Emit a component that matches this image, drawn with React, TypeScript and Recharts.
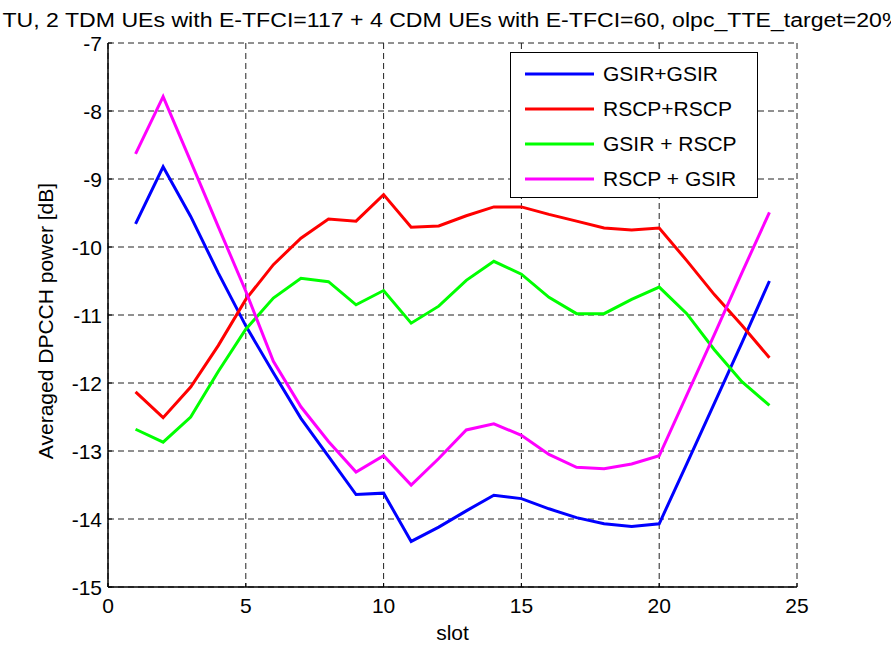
import React from 'react'
import {
  CartesianGrid,
  Legend,
  Line,
  LineChart,
  XAxis,
  YAxis,
} from 'recharts'

const slots = [1, 2, 3, 4, 5, 6, 7, 8, 9, 10, 11, 12, 13, 14, 15, 16, 17, 18, 19, 20, 21, 22, 23, 24]

const gsirGsir = [
  -9.66, -8.82, -9.55, -10.38, -11.16, -11.85, -12.52, -13.08, -13.64, -13.62, -14.33, -14.12,
  -13.88, -13.65, -13.7, -13.85, -13.98, -14.07, -14.11, -14.07, -13.19, -12.3, -11.41, -10.5,
]
const rscpRscp = [
  -12.13, -12.51, -12.06, -11.45, -10.77, -10.26, -9.87, -9.59, -9.62, -9.23, -9.71, -9.69,
  -9.54, -9.41, -9.41, -9.52, -9.62, -9.72, -9.75, -9.72, -10.2, -10.7, -11.15, -11.63,
]
const gsirRscp = [
  -12.68, -12.87, -12.5, -11.83, -11.21, -10.75, -10.46, -10.51, -10.85, -10.64, -11.12, -10.87,
  -10.49, -10.21, -10.4, -10.74, -10.98, -10.98, -10.77, -10.59, -10.98, -11.51, -11.98, -12.33,
]
const rscpGsir = [
  -8.63, -7.79, -8.74, -9.7, -10.65, -11.68, -12.35, -12.86, -13.31, -13.07, -13.5, -13.11,
  -12.69, -12.6, -12.77, -13.05, -13.24, -13.26, -13.19, -13.07, -12.18, -11.29, -10.38, -9.49,
]

const xTicks = [0, 5, 10, 15, 20, 25]
const yTicks = [-15, -14, -13, -12, -11, -10, -9, -8, -7]

const series = [
  { key: 'gg', name: 'GSIR+GSIR', color: '#0000ff', values: gsirGsir },
  { key: 'rr', name: 'RSCP+RSCP', color: '#ff0000', values: rscpRscp },
  { key: 'gr', name: 'GSIR + RSCP', color: '#00ff00', values: gsirRscp },
  { key: 'rg', name: 'RSCP + GSIR', color: '#ff00ff', values: rscpGsir },
]

const data = slots.map((slot, i) => {
  const row: Record<string, number> = { slot }
  series.forEach((s) => {
    row[s.key] = s.values[i]
  })
  return row
})

const FONT = '"Liberation Sans", Arial, Helvetica, sans-serif'
const W = 891
const H = 648
// plot box edges
const LEFT = 108
const RIGHT = 797
const TOP = 43
const BOTTOM = 587
const TICK_IN = 4

const BottomTick = (props: any) => {
  const { x, payload } = props
  return (
    <g>
      <line x1={x} x2={x} y1={BOTTOM} y2={BOTTOM - TICK_IN} stroke="#000" />
      <text x={x} y={BOTTOM + 26} textAnchor="middle" fontSize={21} fontFamily={FONT} fill="#000">
        {payload.value}
      </text>
    </g>
  )
}

const TopTick = (props: any) => {
  const { x } = props
  return <line x1={x} x2={x} y1={TOP} y2={TOP + TICK_IN} stroke="#000" />
}

const LeftTick = (props: any) => {
  const { y, payload } = props
  return (
    <g>
      <line x1={LEFT} x2={LEFT + TICK_IN} y1={y} y2={y} stroke="#000" />
      <text x={LEFT - 6} y={y + 7.5} textAnchor="end" fontSize={21} fontFamily={FONT} fill="#000">
        {payload.value}
      </text>
    </g>
  )
}

const RightTick = (props: any) => {
  const { y } = props
  return <line x1={RIGHT} x2={RIGHT - TICK_IN} y1={y} y2={y} stroke="#000" />
}

// legend keeps the plotting order of the series
const LegendBox = () => (
  <div
    style={{
      width: 246,
      height: 144,
      border: '1px solid #000',
      background: '#fff',
      position: 'relative',
      fontFamily: FONT,
      fontSize: 21,
    }}
  >
    {series.map((s, i) => (
      <div
        key={s.key}
        style={{
          position: 'absolute',
          left: 0,
          top: 4 + i * 35,
          height: 34,
          display: 'flex',
          alignItems: 'center',
          whiteSpace: 'nowrap',
        }}
      >
        <svg width={92} height={6} style={{ display: 'block' }}>
          <line x1={14} x2={83} y1={3} y2={3} stroke={s.color} strokeWidth={3} />
        </svg>
        <span style={{ color: '#000' }}>{s.name}</span>
      </div>
    ))}
  </div>
)

export default function App() {
  return (
    <div style={{ position: 'absolute', left: 0, top: 0, width: W, height: H, background: '#fff', overflow: 'hidden' }}>
      <LineChart
        width={W}
        height={H}
        data={data}
        margin={{ top: TOP, right: W - RIGHT, bottom: 16, left: LEFT - 100 }}
      >
        <CartesianGrid stroke="#222" strokeDasharray="6 4" />
        <XAxis
          dataKey="slot"
          type="number"
          domain={[0, 25]}
          ticks={xTicks}
          height={H - BOTTOM - 16}
          axisLine={{ stroke: '#000', strokeWidth: 1.5 }}
          tickLine={false}
          tickSize={0}
          tick={BottomTick}
          label={{
            content: () => (
              <text x={(LEFT + RIGHT) / 2} y={640} textAnchor="middle" fontSize={21} fontFamily={FONT} fill="#000">
                slot
              </text>
            ),
          }}
        />
        <XAxis
          xAxisId="top"
          orientation="top"
          dataKey="slot"
          type="number"
          domain={[0, 25]}
          ticks={xTicks}
          height={0}
          axisLine={{ stroke: '#000', strokeWidth: 1.5 }}
          tickLine={false}
          tickSize={0}
          tick={TopTick}
        />
        <YAxis
          type="number"
          domain={[-15, -7]}
          ticks={yTicks}
          width={100}
          axisLine={{ stroke: '#000', strokeWidth: 1.5 }}
          tickLine={false}
          tickSize={0}
          tick={LeftTick}
          label={{
            content: () => (
              <g>
                <text
                  x={53}
                  y={321}
                  transform="rotate(-90 53 321)"
                  textAnchor="middle"
                  fontSize={21}
                  fontFamily={FONT}
                  fill="#000"
                >
                  Averaged DPCCH power [dB]
                </text>
                {/* title runs a little past the right edge of the figure */}
                <text
                  x={(LEFT + RIGHT) / 2}
                  y={27}
                  textAnchor="middle"
                  fontSize={20}
                  fontFamily={FONT}
                  fill="#000"
                  textLength={900}
                  lengthAdjust="spacingAndGlyphs"
                >
                  TU, 2 TDM UEs with E-TFCI=117 + 4 CDM UEs with E-TFCI=60, olpc_TTE_target=20%
                </text>
              </g>
            ),
          }}
        />
        <YAxis
          yAxisId="right"
          orientation="right"
          type="number"
          domain={[-15, -7]}
          ticks={yTicks}
          width={0}
          axisLine={{ stroke: '#000', strokeWidth: 1.5 }}
          tickLine={false}
          tickSize={0}
          tick={RightTick}
        />
        <Legend
          layout="horizontal"
          verticalAlign="middle"
          content={LegendBox}
          wrapperStyle={{ position: 'absolute', left: 510, top: 52, width: 248, height: 146 }}
        />
        {series.map((s) => (
          <Line
            key={s.key}
            dataKey={s.key}
            name={s.name}
            stroke={s.color}
            strokeWidth={3}
            dot={false}
            activeDot={false}
            type="linear"
            isAnimationActive={false}
          />
        ))}
      </LineChart>
    </div>
  )
}
